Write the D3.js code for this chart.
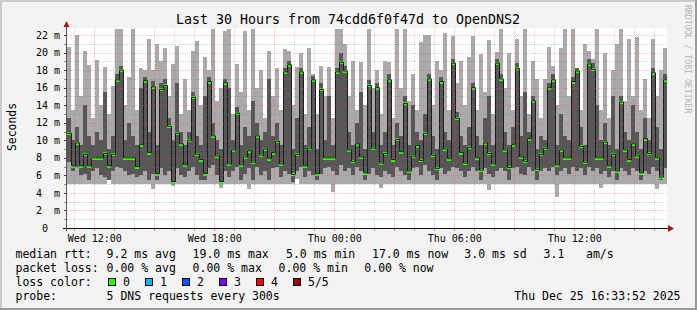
<!DOCTYPE html>
<html><head><meta charset="utf-8">
<script src="https://cdn.jsdelivr.net/npm/d3@7"></script>
<style>html,body{margin:0;padding:0;background:#f3f3f3;} svg{display:block;}</style>
</head><body><svg id="c" width="697" height="310"></svg>
<script>
// ---------------- data ----------------
const titleText = "Last 30 Hours from 74cdd6f0f47d to OpenDNS2";
const yAxisTitle = "Seconds";
const watermark = "RRDTOOL / TOBI OETIKER";
const yTickValues = [0,2,4,6,8,10,12,14,16,18,20,22];
const yTickLabels = ["0","2 m","4 m","6 m","8 m","10 m","12 m","14 m","16 m","18 m","20 m","22 m"];
const xTickHours = [12,18,24,30,36];
const xTickLabels = ["Wed 12:00","Wed 18:00","Thu 00:00","Thu 06:00","Thu 12:00"];
const startHour = 10.635;   // hours since Wed 00:00
const spanHours = 30;
const stepHours = 0.2;      // consolidated step

// ping values in ms per step: max, 4th, median, 2nd, min
const hi = [
20.6,13.5,22.0,15.0,20.2,18.6,12.5,19.1,14.0,18.3,
13.0,16.2,22.7,22.7,14.0,17.2,22.7,13.5,18.2,18.0,
21.6,18.0,21.0,19.0,20.5,15.0,18.7,20.8,13.0,17.0,
13.5,20.2,21.3,14.0,19.5,18.0,22.7,14.5,16.0,22.5,
22.7,13.0,18.7,15.5,22.5,13.5,22.7,16.0,18.0,12.5,
20.2,15.0,18.2,13.5,20.4,20.2,14.0,18.3,20.0,13.0,
20.5,17.5,13.0,18.5,15.0,18.4,12.5,22.7,22.7,21.0,
15.0,19.0,13.5,18.9,14.0,22.7,16.0,18.0,13.0,19.0,
18.9,12.5,22.7,16.0,22.7,14.5,17.5,13.5,21.2,22.0,
22.0,14.0,19.0,18.0,22.2,13.5,21.9,16.5,19.0,14.0,
19.5,21.9,13.5,19.8,15.5,21.4,13.0,20.1,22.7,16.0,
20.0,13.5,21.5,15.0,22.7,13.0,19.0,17.0,12.5,17.0,
20.6,18.5,14.0,20.5,22.7,15.0,22.7,18.2,13.5,21.0,
20.2,19.3,22.7,13.5,20.0,12.5,18.0,21.0,22.7,14.5,
21.5,15.0,21.8,13.5,17.0,12.5,21.5,15.0,18.0,20.5];
const q4 = [
12.5,10.0,11.5,9.5,14.0,10.5,9.5,11.0,10.0,15.5,
9.0,10.5,17.5,18.5,10.0,12.0,10.5,9.5,16.0,17.2,
11.0,16.8,9.5,16.5,17.0,12.5,10.0,16.5,11.0,9.5,
11.0,15.5,10.5,9.5,15.0,17.2,12.0,10.0,9.0,17.0,
16.0,10.0,13.8,9.5,11.5,10.5,14.5,12.0,10.0,11.0,
17.0,10.5,12.0,9.5,18.2,19.0,9.0,12.5,18.2,9.5,
11.5,17.3,9.0,16.5,10.0,15.0,9.5,18.2,20.0,18.5,
11.0,9.5,12.0,15.5,9.0,16.9,11.0,16.5,9.5,11.0,
17.5,9.5,12.0,10.5,15.0,9.5,14.0,11.0,10.0,13.0,
17.5,10.5,9.0,17.2,11.0,10.0,19.3,13.2,10.5,9.5,
11.5,16.5,10.5,9.5,12.5,15.0,9.5,19.3,17.5,11.0,
9.5,11.5,18.8,10.5,15.5,11.0,15.0,9.0,10.5,10.0,
16.5,17.5,9.5,13.0,10.5,10.0,17.2,18.2,11.5,9.5,
19.3,18.8,14.0,10.0,12.0,9.5,15.0,9.0,15.0,11.0,
10.0,14.0,11.0,9.0,12.5,10.0,18.2,11.5,9.0,17.5];
const med = [
10.8,7.1,9.7,7.1,8.4,7.1,8.0,8.0,8.0,8.5,
7.1,8.4,16.9,18.0,8.0,8.0,8.0,7.0,9.5,16.8,
8.6,16.1,6.2,15.8,16.25,11.6,5.3,10.8,9.6,7.2,
10.0,14.9,8.4,7.8,6.2,16.7,10.5,8.2,5.3,16.55,
7.3,8.9,13.1,7.2,8.1,8.8,7.5,10.5,8.3,9.0,
7.9,8.6,9.9,7.3,17.8,18.6,6.1,8.4,17.8,7.1,
9.1,16.9,6.2,15.8,8.0,8.0,8.0,17.8,18.9,17.9,
8.9,7.6,9.6,8.1,6.3,16.25,9.1,16.0,7.4,8.5,
16.9,7.8,10.1,8.7,14.2,6.5,8.2,9.4,7.7,10.8,
17.0,8.3,6.8,16.7,9.0,7.9,18.8,12.5,8.6,7.4,
9.2,16.0,8.0,6.6,9.7,8.5,7.3,18.8,17.0,8.9,
6.9,9.5,18.2,8.1,7.6,10.2,14.5,6.7,8.4,9.1,
16.0,16.9,7.2,8.9,8.0,8.0,16.7,17.9,9.3,7.5,
18.7,18.1,8.0,8.0,9.8,7.1,8.4,6.5,14.35,8.9,
7.8,9.6,8.2,6.3,10.2,8.5,17.7,8.0,5.8,16.9];
const q2 = [
7.5,6.5,7.0,6.0,6.2,5.5,6.5,6.8,6.0,5.8,
5.5,6.5,7.0,6.8,6.5,6.0,6.2,5.8,6.0,6.5,
5.5,6.2,5.5,6.8,6.0,6.5,5.0,6.8,6.0,5.8,
6.5,7.0,6.0,5.5,5.5,6.8,7.2,6.0,5.0,6.5,
5.8,6.5,7.0,5.5,6.2,6.8,5.5,7.0,6.0,6.5,
5.5,6.8,7.0,5.8,6.5,6.2,5.2,6.5,7.0,5.8,
6.5,6.0,5.5,6.2,6.8,7.0,6.5,6.0,7.2,6.5,
6.8,6.0,7.0,6.5,5.5,6.2,6.8,6.0,5.8,6.5,
6.2,5.8,7.0,6.5,6.0,5.5,6.8,7.0,6.0,7.2,
6.5,6.0,5.5,6.8,6.2,6.5,7.0,6.8,6.5,5.8,
6.5,7.0,6.5,5.5,6.8,6.2,5.8,6.5,6.8,6.5,
5.5,6.8,7.0,6.2,6.0,7.0,6.5,5.5,6.5,6.8,
6.5,7.0,6.0,6.5,6.8,6.2,7.0,6.5,6.8,6.0,
7.0,6.5,6.8,6.2,6.5,5.8,6.5,5.5,6.8,6.5,
6.0,6.8,6.5,5.5,6.5,6.2,7.0,6.5,5.5,6.8];
const lo = [
5.0,5.0,5.0,5.0,5.0,5.0,5.0,5.0,5.0,5.0,
5.5,5.0,5.0,5.0,5.0,5.0,5.0,5.0,5.0,5.0,
5.0,4.5,5.0,5.0,5.0,5.0,4.8,5.0,5.0,5.0,
5.0,5.0,5.0,5.0,5.0,5.0,5.0,5.0,4.6,5.0,
5.0,5.0,5.0,5.0,5.0,4.4,5.0,5.0,5.0,5.0,
5.0,5.0,5.0,5.0,5.0,5.0,5.0,5.6,5.0,5.0,
5.0,5.0,5.0,5.0,5.0,5.0,4.1,5.0,5.0,5.0,
5.0,5.0,5.0,5.0,5.0,5.0,5.0,5.0,4.6,5.0,
5.0,5.0,5.0,5.0,5.0,5.0,5.0,5.0,5.0,5.0,
5.0,5.0,5.0,5.0,5.0,5.0,5.0,5.0,5.0,5.0,
5.0,5.0,5.0,5.0,5.0,4.3,5.0,5.0,5.0,5.0,
5.0,5.0,5.0,5.0,5.0,5.0,5.0,5.0,5.0,5.0,
5.0,5.0,3.5,5.0,5.0,5.0,5.0,5.0,5.0,5.0,
5.0,5.0,5.0,4.6,5.0,5.0,5.0,5.0,5.0,5.0,
5.0,5.0,5.0,5.0,5.0,5.0,5.0,4.5,5.0,5.0];

const lossLabels = ["0","1","2","3","4","5/5"];
const lossColors = ["#26ff00","#00b8ff","#0059ff","#7e00ff","#ff0000","#a10000"];
const rowHeads = ["median rtt:","packet loss:","loss color:","probe:"];
const rttTexts = ["9.2 ms avg","19.0 ms max","5.0 ms min","17.0 ms now","3.0 ms sd","3.1","am/s"];
const lossTexts = ["0.00 % avg","0.00 % max","0.00 % min","0.00 % now"];
const probeText = "5 DNS requests every 300s";
const dateText = "Thu Dec 25 16:33:52 2025";

// ---------------- layout ----------------
const W = 697, H = 310;
const X0 = 67, X1 = 667, Y0 = 228, Y1 = 28;
const mono = "'DejaVu Sans Mono', monospace";
const rttX = [107.3,193.3,286.7,372.7,465,544.3,586.7];
const lossX = [107.3,193.3,279.3,365];
const rowY = [258.3,272.3,286.3,300.3];
const boxX = [108,145,182,219,256,293];

const svg = d3.select("#c");
svg.append("rect").attr("width",W).attr("height",H).attr("fill","#f3f3f3");
// frame
svg.append("rect").attr("x",0).attr("y",0).attr("width",W).attr("height",2).attr("fill","#cbcbcb");
svg.append("rect").attr("x",0).attr("y",0).attr("width",2).attr("height",H).attr("fill","#cbcbcb");
svg.append("rect").attr("x",0).attr("y",H-2).attr("width",W).attr("height",2).attr("fill","#999999");
svg.append("rect").attr("x",W-2).attr("y",0).attr("width",2).attr("height",H).attr("fill","#999999");

const x = d3.scaleLinear().domain([startHour, startHour+spanHours]).range([X0, X1]);
const y = d3.scaleLinear().domain([0, 22.8]).range([Y0, Y1]);

svg.append("rect").attr("x",X0).attr("y",Y1).attr("width",X1-X0).attr("height",Y0-Y1).attr("fill","#ffffff");

const cols = d3.range(hi.length).map(k => ({
  t: startHour + k*stepHours, hi: hi[k], q4: q4[k], med: med[k], q2: q2[k], lo: lo[k]
}));
const cw = x(startHour + stepHours) - x(startHour);

const g = svg.append("g").attr("shape-rendering","crispEdges");
g.selectAll(".lt").data(cols).join("rect")
  .attr("x", d => x(d.t)).attr("width", cw)
  .attr("y", d => y(d.hi)).attr("height", d => y(d.lo) - y(d.hi))
  .attr("fill","#aaaaaa");
g.selectAll(".dk").data(cols).join("rect")
  .attr("x", d => x(d.t)).attr("width", cw)
  .attr("y", d => y(d.q4)).attr("height", d => y(d.q2) - y(d.q4))
  .attr("fill","#575757");

// median step line
const pts = cols.map(d => [x(d.t)+0.5, y(d.med)]);
pts.push([X1, y(cols[cols.length-1].med)]);
svg.append("path").attr("d", d3.line().curve(d3.curveStepAfter)(pts))
  .attr("fill","none").attr("stroke","#1a1a1a").attr("stroke-width",1);

// median markers (loss colour 0)
g.selectAll(".md").data(cols).join("rect")
  .attr("x", d => x(d.t)).attr("width", cw)
  .attr("y", d => Math.round(y(d.med)) - 1).attr("height", 3)
  .attr("fill", lossColors[0]);

// grid (drawn over the smoke, semi transparent)
const grid = svg.append("g").attr("shape-rendering","crispEdges");
const yMinor = d3.range(1, 23);
grid.selectAll(".hy").data(yMinor).join("line")
  .attr("x1", X0).attr("x2", X1)
  .attr("y1", v => Math.round(y(v))+0.5).attr("y2", v => Math.round(y(v))+0.5)
  .attr("stroke", v => v % 2 === 0 ? "rgba(255,60,60,0.35)" : "rgba(110,110,110,0.3)")
  .attr("stroke-dasharray","1,1");
const xHours = d3.range(11, 41);
grid.selectAll(".vx").data(xHours).join("line")
  .attr("y1", Y1).attr("y2", Y0)
  .attr("x1", h => Math.round(x(h))+0.5).attr("x2", h => Math.round(x(h))+0.5)
  .attr("stroke", h => h % 3 === 0 ? "rgba(255,60,60,0.35)" : "rgba(110,110,110,0.3)")
  .attr("stroke-dasharray","1,1");

// ticks
grid.selectAll(".tx").data(xHours).join("line")
  .attr("y1", Y0).attr("y2", Y0+3)
  .attr("x1", h => Math.round(x(h))+0.5).attr("x2", h => Math.round(x(h))+0.5)
  .attr("stroke", h => h % 3 === 0 ? "#ff6060" : "#a0a0a0");
grid.selectAll(".ty").data(d3.range(0,23)).join("line")
  .attr("x1", X0-3).attr("x2", X0)
  .attr("y1", v => Math.round(y(v))+0.5).attr("y2", v => Math.round(y(v))+0.5)
  .attr("stroke", v => v % 2 === 0 ? "#404040" : "#909090");

// axes
grid.append("line").attr("x1", X0-4).attr("x2", X1+2).attr("y1", Y0+0.5).attr("y2", Y0+0.5).attr("stroke","#111");
grid.append("line").attr("x1", X0-0.5).attr("x2", X0-0.5).attr("y1", Y0+3).attr("y2", Y1-4).attr("stroke","#555");
svg.append("path").attr("d", `M${X1+1},${Y0-3} L${X1+7},${Y0+0.5} L${X1+1},${Y0+4} Z`).attr("fill","#a01818");
svg.append("path").attr("d", `M${X0-3.5},${Y1-1} L${X0-0.5},${Y1-7} L${X0+2.5},${Y1-1} Z`).attr("fill","#a01818");

// y labels
svg.selectAll(".yl").data(yTickValues).join("text")
  .attr("x", (v,i) => yTickLabels[i].length < 2 ? 42 : 36)
  .attr("y", v => y(v) + 3.6)
  .attr("font-family", mono).attr("font-size", 10).attr("fill","#000")
  .attr("xml:space","preserve")
  .text((v,i) => yTickLabels[i].length === 3 ? yTickLabels[i].replace(" ","  ") : yTickLabels[i]);

// x labels
svg.selectAll(".xl").data(xTickHours).join("text")
  .attr("x", h => x(h) + 0.5).attr("y", 241.5).attr("text-anchor","middle")
  .attr("font-family", mono).attr("font-size", 10).attr("fill","#000")
  .text((h,i) => xTickLabels[i]);

// title
svg.append("text").attr("x", 348).attr("y", 24).attr("text-anchor","middle")
  .attr("font-family", mono).attr("font-size", 13.3).attr("fill","#000").text(titleText);
// y title
svg.append("text").attr("transform","translate(15.5,127) rotate(-90)").attr("text-anchor","middle")
  .attr("font-family", mono).attr("font-size", 11.4).attr("fill","#000").text(yAxisTitle);
// watermark
svg.append("text").attr("transform","translate(684.5,5) rotate(90)")
  .attr("font-family", mono).attr("font-size", 8.2).attr("fill","#b4b4b4").text(watermark);

// legend
const lg = svg.append("g").attr("font-family", mono).attr("font-size", 11.5).attr("fill","#000");
lg.selectAll(".rh").data(rowHeads).join("text").attr("x", 15.5).attr("y",(d,i)=>rowY[i]).text(d=>d);
lg.selectAll(".rt").data(rttTexts).join("text").attr("x",(d,i)=>rttX[i]-0.7).attr("y",rowY[0]).text(d=>d);
lg.selectAll(".lt2").data(lossTexts).join("text").attr("x",(d,i)=>lossX[i]-0.7).attr("y",rowY[1]).text(d=>d);
lg.append("text").attr("x",106.6).attr("y",rowY[3]).text(probeText);
lg.append("text").attr("x",680.5).attr("y",rowY[3]).attr("text-anchor","end").text(dateText);
const bx = lg.selectAll(".bx").data(lossColors).join("g");
bx.append("rect").attr("x",(d,i)=>boxX[i]+0.5).attr("y",278.5).attr("width",7).attr("height",7)
  .attr("fill",d=>d).attr("stroke","#000").attr("stroke-width",1).attr("shape-rendering","crispEdges");
bx.append("text").attr("x",(d,i)=>boxX[i]+15).attr("y",rowY[2]).text((d,i)=>lossLabels[i]);
</script>
</body></html>
